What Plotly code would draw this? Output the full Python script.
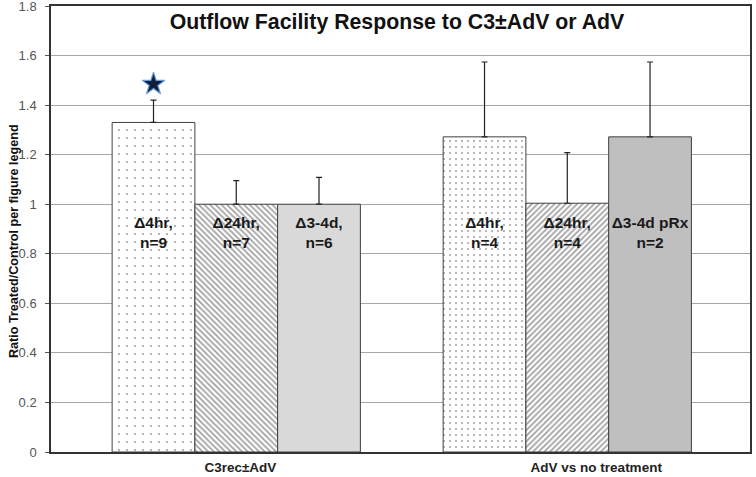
import plotly.graph_objects as go

groups = ["C3rec±AdV", "AdV vs no treatment"]
bar_labels = ["Δ4hr,<br>n=9", "Δ24hr,<br>n=7", "Δ3-4d,<br>n=6",
              "Δ4hr,<br>n=4", "Δ24hr,<br>n=4", "Δ3-4d pRx<br>n=2"]
ratio = [1.33, 1.00, 1.00, 1.272, 1.004, 1.272]
err_plus = [0.09, 0.095, 0.108, 0.302, 0.204, 0.302]
significant = [True, False, False, False, False, False]
y_ticks = [0, 0.2, 0.4, 0.6, 0.8, 1, 1.2, 1.4, 1.6, 1.8]

# 3 bars per group, one empty slot between groups
bars_per_group = 3
x_pos = [(i // bars_per_group) * (bars_per_group + 1) + i % bars_per_group
         for i in range(len(ratio))]

fills = ["white", "white", "#d9d9d9", "white", "white", "#bfbfbf"]
patterns = [".", "\\", "", ".", "/", ""]
pat_size = [8, 4, 8, 6, 4, 8]
pat_solid = [0.06, 0.45, 0.3, 0.09, 0.45, 0.3]

fig = go.Figure()

fig.add_trace(go.Bar(
    x=x_pos,
    y=ratio,
    width=1,
    marker=dict(
        color=fills,
        line=dict(color="#404040", width=1),
        pattern=dict(shape=patterns, fgcolor="#000000", bgcolor=fills,
                     size=pat_size, solidity=pat_solid, fillmode="overlay"),
    ),
    error_y=dict(type="data", symmetric=False, array=err_plus,
                 arrayminus=[0] * len(ratio), color="#222222",
                 thickness=1.2, width=3),
    showlegend=False,
    hoverinfo="y",
))

# labels inside the bars
label_y = 0.878
fig.add_trace(go.Scatter(
    x=x_pos,
    y=[label_y] * len(ratio),
    mode="text",
    text=["<b>" + t.replace("<br>", "</b><br><b>") + "</b>" for t in bar_labels],
    textfont=dict(family="Liberation Sans", size=15.5, color="#1a1a1a"),
    showlegend=False,
    hoverinfo="skip",
))

# significance star
star_x = [x for x, s in zip(x_pos, significant) if s]
star_y = [r + e + 0.065 for r, e, s in zip(ratio, err_plus, significant) if s]
fig.add_trace(go.Scatter(
    x=star_x, y=star_y, mode="markers",
    marker=dict(symbol="star", size=17, color="#0f1e3d",
                line=dict(color="#6a9ad8", width=1.2)),
    showlegend=False, hoverinfo="skip",
))

group_centers = [1.05, 5.35]

fig.update_layout(
    width=756, height=477,
    margin=dict(l=51, r=6, t=6, b=25),
    paper_bgcolor="white", plot_bgcolor="white",
    title=dict(text="<b>Outflow Facility Response to C3±AdV or AdV</b>",
               x=0.495, xref="paper", xanchor="center",
               y=0.954, yanchor="middle",
               font=dict(family="Liberation Sans", size=21.3, color="#111111")),
)

# y axis title placed by hand so it sits close to the tick labels
fig.add_annotation(
    text="<b>Ratio Treated/Control per figure legend</b>",
    xref="paper", yref="paper", x=0, y=0.473,
    xanchor="center", yanchor="middle", xshift=-37, textangle=-90,
    showarrow=False,
    font=dict(family="Liberation Sans", size=12.6, color="#111111"),
)

fig.update_xaxes(
    range=[-1.2387, 7.208],
    tickvals=group_centers,
    ticktext=["<b>" + g + "</b>" for g in groups],
    tickfont=dict(family="Liberation Sans", size=13.5, color="#222222"),
    ticks="", showgrid=False, zeroline=False, automargin=False,
    ticklabelstandoff=2,
    showline=True, linecolor="#333333", linewidth=1.5, mirror=True,
)

fig.update_yaxes(
    range=[0, 1.8],
    tickvals=y_ticks,
    tickfont=dict(family="Liberation Sans", size=13, color="#555555"),
    ticks="outside", ticklen=4, tickcolor="#555555",
    ticklabelstandoff=6, ticklabeloverflow="allow", automargin=False,
    showgrid=True, gridcolor="#a6a6a6", gridwidth=1, zeroline=False,
    showline=True, linecolor="#333333", linewidth=1.5, mirror=True,
)

# the page body has a default 8px margin; drop it so the figure fills the window
fig.write_html("out.html", config={"displayModeBar": False},
               post_script="document.body.style.margin='0px';")
